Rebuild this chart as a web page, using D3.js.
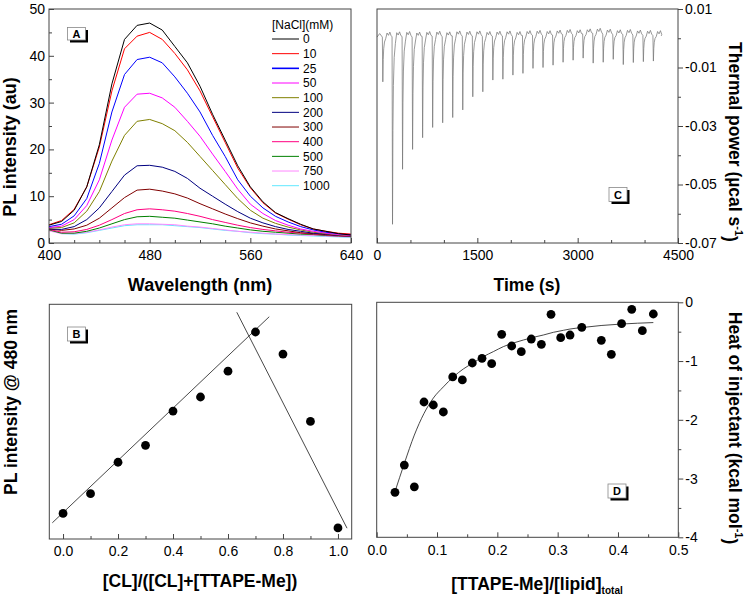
<!DOCTYPE html>
<html><head><meta charset="utf-8">
<script src="https://cdn.jsdelivr.net/npm/d3@7"></script>
<style>body{margin:0;background:#fff}</style>
</head><body>
<svg id="c" width="750" height="598"></svg>
<script>
// ---------------- DATA ----------------
// Panel A: PL spectra at different [NaCl]
const wavelengths = [400,410,420,430,440,450,460,470,480,490,500,510,520,530,540,550,560,570,580,590,600,610,620,630,640];
const naclLabels = ["0","10","25","50","100","200","300","400","500","750","1000"];
const pl_0    = [3.8,4.6,7.0,12.0,21.0,34.0,43.5,46.5,47.0,45.5,42.0,38.5,33.5,27.5,22.0,16.5,12.0,8.8,6.5,5.2,4.0,3.0,2.5,2.0,1.7];
const pl_10   = [3.9,4.8,7.2,12.0,20.5,32.5,41.5,44.2,45.0,43.5,40.5,37.0,32.5,27.0,21.5,16.0,11.8,8.6,6.4,5.1,3.9,3.0,2.5,2.1,1.9];
const pl_25   = [3.5,4.0,5.8,9.5,17.0,28.0,36.0,39.2,39.7,38.5,35.5,32.0,28.0,23.0,18.5,13.5,10.0,7.5,5.7,4.5,3.5,2.8,2.3,2.0,1.8];
const pl_50   = [3.3,3.6,5.0,8.0,13.5,22.0,29.0,31.8,32.0,31.0,29.0,26.0,22.8,19.0,15.3,11.5,8.3,6.3,4.8,3.8,3.0,2.5,2.1,1.8,1.6];
const pl_100  = [3.2,3.3,4.3,6.8,11.0,17.5,23.0,26.0,26.4,25.5,24.0,21.5,18.5,15.5,12.5,9.5,7.0,5.3,4.2,3.4,2.8,2.3,2.0,1.7,1.5];
const pl_200  = [3.0,2.9,3.5,5.0,7.5,11.0,14.5,16.5,16.6,16.2,15.3,13.8,11.7,10.0,8.3,6.7,5.3,4.3,3.5,2.9,2.5,2.1,1.9,1.6,1.5];
const pl_300  = [3.0,2.7,3.0,3.8,5.3,7.5,9.7,11.3,11.5,11.1,10.5,9.6,8.4,7.3,6.2,5.2,4.3,3.6,3.0,2.6,2.2,2.0,1.8,1.6,1.5];
const pl_400  = [2.9,2.3,2.4,2.9,3.8,5.0,6.3,7.1,7.3,7.1,6.8,6.3,5.7,5.0,4.4,3.8,3.3,2.9,2.6,2.3,2.1,1.9,1.7,1.5,1.4];
const pl_500  = [2.8,2.1,2.1,2.5,3.2,4.1,5.0,5.6,5.7,5.5,5.3,4.9,4.5,4.1,3.6,3.2,2.8,2.5,2.3,2.1,1.9,1.8,1.6,1.5,1.4];
const pl_750  = [2.6,2.0,2.0,2.3,2.8,3.4,3.9,4.1,4.1,4.0,3.9,3.6,3.4,3.1,2.8,2.5,2.3,2.1,1.9,1.8,1.7,1.6,1.5,1.4,1.3];
const pl_1000 = [3.0,2.0,1.9,2.2,2.7,3.2,3.7,3.9,3.9,3.9,3.7,3.5,3.3,3.0,2.7,2.5,2.2,2.0,1.9,1.7,1.6,1.5,1.4,1.3,1.2];
const aXTicks = [400,480,560,640];
const aXMinor = [420,440,460,500,520,540,580,600,620];
const aYTicks = [0,10,20,30,40,50];
const aYMinor = [5,15,25,35,45];

// Panel B: PL @ 480 nm vs mole fraction
const bX = [0.0,0.1,0.2,0.3,0.4,0.5,0.6,0.7,0.8,0.9,1.0];
const bY = [10.9,19.3,32.7,39.9,54.5,60.5,71.5,88.2,78.8,50.1,4.7];
const bFit1X = [-0.039,0.75], bFit1Y = [6.9,94.7];
const bFit2X = [0.632,1.033], bFit2Y = [96.6,4.6];
const bXTicks = [0.0,0.2,0.4,0.6,0.8,1.0];
const bXMinor = [0.1,0.3,0.5,0.7,0.9];

// Panel C: ITC thermogram (injection times, peak minima, local baselines)
const injTimes = [80,225,375,525,675,825,975,1125,1275,1425,1575,1725,1875,2025,2175,2325,2475,2625,2775,2925,3075,3225,3375,3525,3675,3825,3975,4125];
const injPeaks = [-0.0149,-0.0636,-0.0448,-0.038,-0.034,-0.0305,-0.0289,-0.0271,-0.0245,-0.020,-0.0183,-0.0143,-0.014,-0.0126,-0.012,-0.0103,-0.010,-0.0092,-0.0082,-0.0075,-0.0068,-0.0085,-0.0082,-0.0072,-0.009,-0.0083,-0.008,-0.0078];
const injBase  = [0.0004,0.0005,0.0006,0.0004,0.0006,0.0007,0.0005,0.0008,0.0007,0.0008,0.0006,0.0007,0.0008,0.0006,0.0009,0.001,0.0009,0.0011,0.0013,0.0012,0.0015,0.0017,0.0014,0.0012,0.0013,0.0011,0.001,0.0009];
const traceEnd = [4250, 0.0008];
const cXTicks = [0,1500,3000,4500];
const cXMinor = [500,1000,2000,2500,3500,4000];
const cYTicks = [0.01,-0.01,-0.03,-0.05,-0.07];
const cYMinor = [0,-0.02,-0.04,-0.06];

// Panel D: integrated heats
const dX = [0.0303,0.0458,0.0624,0.0784,0.0939,0.1105,0.126,0.142,0.1585,0.1746,0.1906,0.2072,0.2238,0.2397,0.2563,0.273,0.289,0.305,0.3205,0.34,0.3724,0.389,0.406,0.4228,0.4404,0.4586];
const dY = [-3.234,-2.77,-3.14,-1.697,-1.748,-1.867,-1.271,-1.322,-1.033,-0.953,-1.045,-0.545,-0.744,-0.84,-0.625,-0.715,-0.204,-0.602,-0.557,-0.426,-0.647,-0.885,-0.364,-0.119,-0.483,-0.199];
const dFitX = [0.0304,0.0459,0.0624,0.0785,0.0939,0.1105,0.127,0.1436,0.16,0.1767,0.1933,0.2099,0.2265,0.2431,0.2597,0.2762,0.2928,0.3094,0.3205,0.34,0.372,0.406,0.4586];
const dFitY = [-3.22,-2.74,-2.26,-1.89,-1.63,-1.44,-1.27,-1.135,-1.03,-0.925,-0.84,-0.755,-0.693,-0.642,-0.596,-0.557,-0.511,-0.477,-0.455,-0.43,-0.395,-0.37,-0.345];
const dXTicks = [0.0,0.1,0.2,0.3,0.4,0.5];
const dXMinor = [0.05,0.15,0.25,0.35,0.45];
const dYTicks = [0,-1,-2,-3,-4];
const dYMinor = [-0.5,-1.5,-2.5,-3.5];

// ---------------- STYLE ----------------
const FONT = '"Liberation Sans", Arial, Helvetica, sans-serif';
const seriesColors = ["#000000","#ff0000","#0000ff","#ff00ff","#808000","#000080","#800000","#ff0080","#008000","#ff88ff","#60e8ff"];
const AX = "#444";
const TICKFONT = 14;
const svg = d3.select("#c").attr("font-family", FONT);

function styleAxis(a) {
  a.select(".domain").remove();
  a.attr("font-family", FONT).attr("font-size", TICKFONT);
  a.selectAll("line").attr("stroke", AX);
  a.selectAll("text").attr("fill", "#000");
  return a;
}
function frame(x0, x1, y0, y1) {
  svg.append("rect").attr("x", x0).attr("y", y0).attr("width", x1 - x0).attr("height", y1 - y0)
    .attr("fill", "none").attr("stroke", AX).attr("stroke-width", 1);
}
function bottomAxis(x, yPix, major, minor, fmt) {
  styleAxis(svg.append("g").attr("transform", `translate(0,${yPix})`)
    .call(d3.axisBottom(x).tickValues(major).tickFormat(fmt).tickSizeInner(-5).tickSizeOuter(0).tickPadding(7.5)));
  styleAxis(svg.append("g").attr("transform", `translate(0,${yPix})`)
    .call(d3.axisBottom(x).tickValues(minor).tickFormat("").tickSizeInner(-3).tickSizeOuter(0)));
}
function leftAxis(y, xPix, major, minor, fmt) {
  styleAxis(svg.append("g").attr("transform", `translate(${xPix},0)`)
    .call(d3.axisLeft(y).tickValues(major).tickFormat(fmt).tickSizeInner(-5).tickSizeOuter(0).tickPadding(4)));
  styleAxis(svg.append("g").attr("transform", `translate(${xPix},0)`)
    .call(d3.axisLeft(y).tickValues(minor).tickFormat("").tickSizeInner(-3).tickSizeOuter(0)));
}
function rightAxis(y, xPix, major, minor, fmt) {
  styleAxis(svg.append("g").attr("transform", `translate(${xPix},0)`)
    .call(d3.axisRight(y).tickValues(major).tickFormat(fmt).tickSizeInner(5).tickSizeOuter(0).tickPadding(2)));
  styleAxis(svg.append("g").attr("transform", `translate(${xPix},0)`)
    .call(d3.axisRight(y).tickValues(minor).tickFormat("").tickSizeInner(3).tickSizeOuter(0)));
}
function panelTag(x, y, letter, h) {
  const w = 18, o = 2.5;
  svg.append("rect").attr("x", x + o).attr("y", y + o).attr("width", w).attr("height", h).attr("fill", "#000");
  svg.append("rect").attr("x", x).attr("y", y).attr("width", w).attr("height", h)
    .attr("fill", "#fff").attr("stroke", "#888").attr("stroke-width", 0.8);
  svg.append("text").attr("x", x + w / 2).attr("y", y + h / 2 + 4).attr("text-anchor", "middle")
    .attr("font-size", 11).attr("font-weight", "bold").text(letter);
}
function title(x, y, rot, parts, size) {
  const t = svg.append("text").attr("transform", `translate(${x},${y}) rotate(${rot})`)
    .attr("text-anchor", "middle").attr("font-size", size || 17.5).attr("font-weight", "bold");
  parts.forEach(p => {
    const s = t.append("tspan").text(p.t);
    if (p.sup) s.attr("font-size", 11).attr("dy", "-0.55em");
    if (p.sub) s.attr("font-size", 10).attr("dy", "0.35em");
    if (p.back) s.attr("dy", p.back);
  });
}
const fmt1 = d => d.toFixed(1);
const fmtInt = d => String(d);

// ---------------- PANEL A ----------------
{
  const x = d3.scaleLinear([400, 640], [49, 351]);
  const y = d3.scaleLinear([0, 50], [243, 9]);
  const series = [pl_0, pl_10, pl_25, pl_50, pl_100, pl_200, pl_300, pl_400, pl_500, pl_750, pl_1000];
  const line = d3.line().x((d, i) => x(wavelengths[i])).y(d => y(d));
  series.slice().reverse().forEach((s, ri) => {
    const i = series.length - 1 - ri;
    svg.append("path").attr("d", line(s)).attr("fill", "none")
      .attr("stroke", seriesColors[i]).attr("stroke-width", 1);
  });
  frame(49, 351, 9, 243);
  bottomAxis(x, 243, aXTicks, aXMinor, fmtInt);
  leftAxis(y, 49, aYTicks, aYMinor, fmtInt);
  // legend
  const lg = svg.append("g").attr("font-size", 12);
  lg.append("text").attr("x", 272).attr("y", 29).text("[NaCl](mM)");
  naclLabels.forEach((lab, i) => {
    const yy = 39 + i * 14.67;
    lg.append("line").attr("x1", 272).attr("x2", 299).attr("y1", yy).attr("y2", yy)
      .attr("stroke", seriesColors[i]).attr("stroke-width", i === 2 ? 1.6 : 1);
    lg.append("text").attr("x", 303).attr("y", yy + 4.2).text(lab);
  });
  panelTag(67.5, 27.5, "A", 12.5);
  title(16, 147, -90, [{t: "PL intensity (au)"}], 18);
  title(200, 291, 0, [{t: "Wavelength (nm)"}], 18);
}

// ---------------- PANEL C ----------------
{
  const x = d3.scaleLinear([0, 4500], [377, 678]);
  const y = d3.scaleLinear([-0.07, 0.01], [243, 9]);
  // peak profile: time offsets (s), fraction of depth, small baseline bumps
  const profT = [0, 7, 13, 20, 32, 50, 70, 92, 112, 132];
  const profF = [0, 1, 0.5, 0.26, 0.11, 0.035, 0, 0, 0, 0];
  const profB = [0, 0, 0, 0, 0, 0, 0.0014, 0.0006, 0.0017, 0.0004];
  const pts = [[0, injBase[0]], [40, injBase[0] + 0.0012]];
  injTimes.forEach((t, i) => {
    const b = injBase[i], d = injPeaks[i];
    profT.forEach((o, k) => pts.push([t + o, b + (d - b) * profF[k] + profB[k]]));
  });
  pts.push(traceEnd);
  svg.append("path").attr("d", d3.line().x(d => x(d[0])).y(d => y(d[1]))(pts))
    .attr("fill", "none").attr("stroke", "#777").attr("stroke-width", 0.75);
  frame(377, 678, 9, 243);
  bottomAxis(x, 243, cXTicks, cXMinor, fmtInt);
  rightAxis(y, 678, cYTicks, cYMinor, d => d.toFixed(2));
  panelTag(609, 187.5, "C", 14);
  title(527, 291, 0, [{t: "Time (s)"}]);
  title(729, 142, 90, [{t: "Thermal power (\u00b5cal s"}, {t: "-1", sup: true}, {t: ")", back: "0.55em"}]);
}

// ---------------- PANEL B ----------------
{
  const x = d3.scaleLinear([-0.05, 1.05], [49.3, 351.7]);
  const y = d3.scaleLinear([0, 100], [539, 304.3]);
  [[bFit1X, bFit1Y], [bFit2X, bFit2Y]].forEach(([fx, fy]) => {
    svg.append("line").attr("x1", x(fx[0])).attr("y1", y(fy[0])).attr("x2", x(fx[1])).attr("y2", y(fy[1]))
      .attr("stroke", "#333").attr("stroke-width", 0.9);
  });
  svg.append("g").selectAll("circle").data(bX).join("circle")
    .attr("cx", d => x(d)).attr("cy", (d, i) => y(bY[i])).attr("r", 4.4).attr("fill", "#000");
  frame(49.3, 351.7, 304.3, 539);
  bottomAxis(x, 539, bXTicks, bXMinor, fmt1);
  panelTag(67.5, 327, "B", 14);
  title(17, 402, -90, [{t: "PL intensity @ 480 nm"}]);
  title(200, 587, 0, [{t: "[CL]/([CL]+[TTAPE-Me])"}]);
}

// ---------------- PANEL D ----------------
{
  const x = d3.scaleLinear([0, 0.5], [376.7, 678.3]);
  const y = d3.scaleLinear([-4, 0], [537.3, 302.3]);
  svg.append("path").attr("d", d3.line().curve(d3.curveMonotoneX).x((d, i) => x(d)).y((d, i) => y(dFitY[i]))(dFitX))
    .attr("fill", "none").attr("stroke", "#333").attr("stroke-width", 0.9);
  svg.append("g").selectAll("circle").data(dX).join("circle")
    .attr("cx", d => x(d)).attr("cy", (d, i) => y(dY[i])).attr("r", 4.4).attr("fill", "#000");
  frame(376.7, 678.3, 302.3, 537.3);
  bottomAxis(x, 537.3, dXTicks, dXMinor, fmt1);
  rightAxis(y, 678.3, dYTicks, dYMinor, fmtInt);
  panelTag(608, 484, "D", 14);
  title(537, 590, 0, [{t: "[TTAPE-Me]/[lipid]"}, {t: "total", sub: true}]);
  title(729, 428, 90, [{t: "Heat of injectant (kcal mol"}, {t: "-1", sup: true}, {t: ")", back: "0.55em"}]);
}
</script>
</body></html>
